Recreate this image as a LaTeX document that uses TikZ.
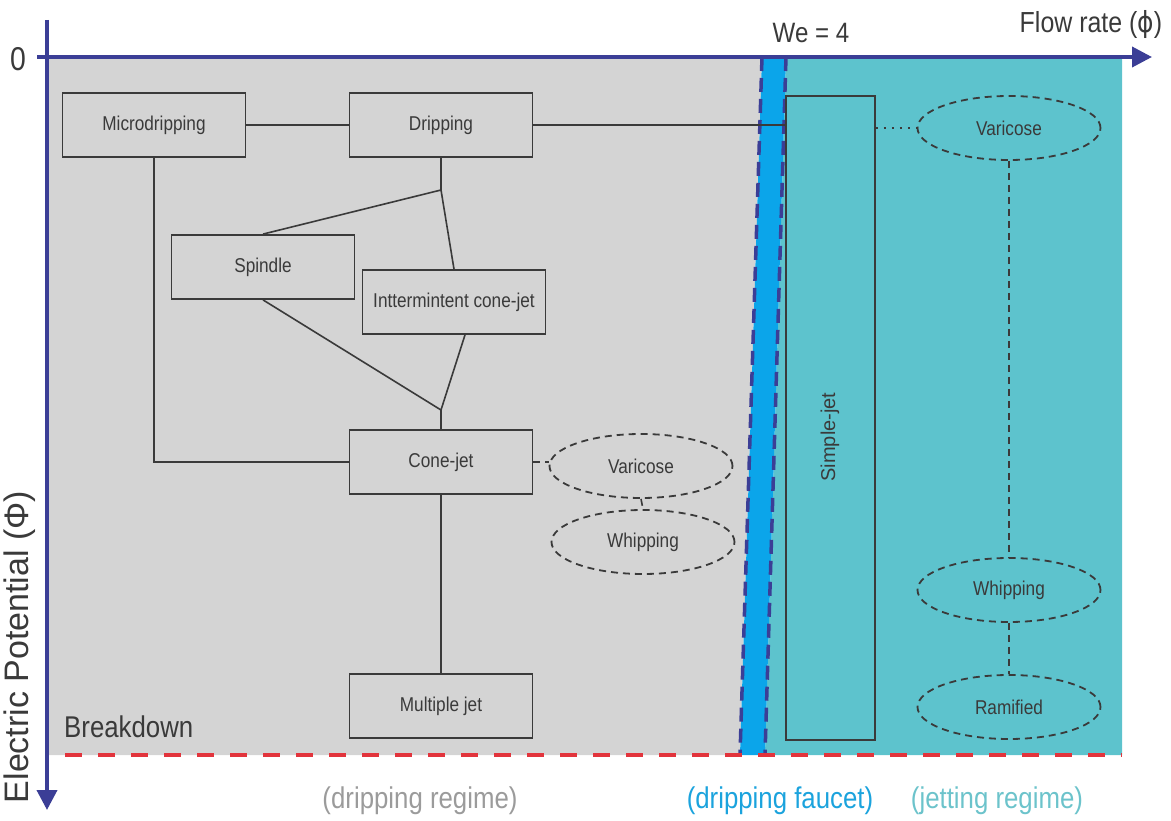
\documentclass[tikz,border=0pt]{standalone}
\usepackage{fontspec}
\setmainfont{Liberation Sans}
\newfontfamily\narrowfont{Liberation Sans}[FakeStretch=0.86]
\newfontfamily\phifont{DejaVu Sans}[FakeStretch=0.86]
\usepackage{tikz}
\usetikzlibrary{arrows.meta,shapes.geometric}

\definecolor{axisblue}{HTML}{3B3E96}
\definecolor{dripgray}{HTML}{D4D4D4}
\definecolor{jetteal}{HTML}{5DC3CD}
\definecolor{faucetblue}{HTML}{0BA5EA}
\definecolor{breakred}{HTML}{E2343C}
\definecolor{boxline}{HTML}{3A3A3A}
\definecolor{labgray}{HTML}{9B9B9B}
\definecolor{labblue}{HTML}{1BA3DD}
\definecolor{labteal}{HTML}{6CC3CB}

\tikzset{
    stagebox/.style={draw=boxline, line width=1.8pt, minimum width=183pt, minimum height=64pt,
        inner sep=0pt, text=boxline, font=\narrowfont\fontsize{20}{24}\selectfont},
    modeoval/.style={ellipse, draw=boxline, line width=1.8pt, dash pattern=on 7pt off 5pt,
        minimum width=183pt, minimum height=64pt, inner sep=0pt, text=boxline,
        font=\narrowfont\fontsize{20}{24}\selectfont},
    link/.style={draw=boxline, line width=1.6pt},
    biglabel/.style={font=\narrowfont\fontsize{30}{34}\selectfont, inner sep=0pt},
}

\begin{document}
\begin{tikzpicture}[x=1pt, y=-1pt, >={Triangle[length=20pt,width=20pt]}]

    \useasboundingbox (0,0) rectangle (1171,821);

    % regimes
    \fill[dripgray] (47,57) -- (762,57) -- (740,755) -- (47,755) -- cycle;
    \fill[jetteal] (786,57) -- (1122,57) -- (1122,755) -- (765,755) -- cycle;
    \fill[faucetblue] (762,57) -- (786,57) -- (765,755) -- (740,755) -- cycle;
    \draw[axisblue, line width=3.5pt, dash pattern=on 14pt off 7pt] (762,57) -- (740,755);
    \draw[axisblue, line width=3.5pt, dash pattern=on 14pt off 7pt] (786,57) -- (765,755);

    \draw[breakred, line width=4.5pt, dash pattern=on 17pt off 16pt] (65,755) -- (1122,755);

    % axes
    \draw[axisblue, line width=3.8pt, ->] (37,57) -- (1152,57);
    \draw[axisblue, line width=3.8pt, ->] (47,20) -- (47,810);

    \node[biglabel, text=boxline, font=\narrowfont\fontsize{33}{36}\selectfont] (zero) at (18,59) {0};
    \node[biglabel, text=boxline, font=\narrowfont\fontsize{28}{32}\selectfont] (we) at (811,33) {We = 4};
    \node[biglabel, text=boxline, font=\narrowfont\fontsize{29}{32}\selectfont] (flow) at (1091,25) {Flow rate ({\phifont ϕ})};
    \node[biglabel, text=boxline, font=\fontsize{34}{38}\selectfont, rotate=90] (pot) at (20,647) {Electric Potential (Φ)};
    \node[biglabel, text=boxline, anchor=west] (brk) at (64,727) {Breakdown};

    \node[biglabel, text=labgray] (lab1) at (420,801) {(dripping regime)};
    \node[biglabel, text=labblue] (lab2) at (780,801) {(dripping faucet)};
    \node[biglabel, text=labteal] (lab3) at (997,801) {(jetting regime)};

    % modes
    \node[stagebox] (micro) at (154,125) {Microdripping};
    \node[stagebox] (drip) at (441,125) {Dripping};
    \node[stagebox] (spindle) at (263,267) {Spindle};
    \node[stagebox] (inter) at (454,302) {Inttermintent cone-jet};
    \node[stagebox] (cone) at (441,462) {Cone-jet};
    \node[stagebox] (multi) at (441,706) {Multiple jet};
    \node[stagebox, minimum width=89pt, minimum height=644pt] (simple) at (830.5,418) {};
    \node[text=boxline, font=\fontsize{20}{24}\selectfont, rotate=90] (simpletext) at (830,437) {Simple-jet};

    \node[modeoval] (lvar) at (641,466) {Varicose};
    \node[modeoval] (lwhip) at (643,542) {Whipping};
    \node[modeoval] (rvar) at (1009,128) {Varicose};
    \node[modeoval] (rwhip) at (1009,590) {Whipping};
    \node[modeoval] (ramif) at (1009,707) {Ramified};

    \coordinate (j1) at (441,190);
    \coordinate (j2) at (441,410);

    \draw[link] (micro) -- (drip);
    \draw[link] (drip.east) -- (drip.east -| simple.west);
    \draw[link] (micro.south) |- (cone.west);
    \draw[link] (drip.south) -- (j1);
    \draw[link] (j1) -- (spindle.north);
    \draw[link] (j1) -- (inter.north);
    \draw[link] (spindle.south) -- (j2);
    \draw[link] ([xshift=11pt]inter.south) -- (j2);
    \draw[link] (j2) -- (cone.north);
    \draw[link] (cone) -- (multi);

    \draw[link, dash pattern=on 7pt off 5pt] (cone.east) -- (cone.east -| lvar.west);
    \draw[link, dash pattern=on 7pt off 5pt] (lvar.south) -- (lwhip.north);
    \draw[link, dash pattern=on 2pt off 6pt] (rvar.west -| simple.east) -- (rvar.west);
    \draw[link, dash pattern=on 7pt off 5pt] (rvar.south) -- (rwhip.north);
    \draw[link, dash pattern=on 7pt off 5pt] (rwhip.south) -- (ramif.north);

\end{tikzpicture}
\end{document}
